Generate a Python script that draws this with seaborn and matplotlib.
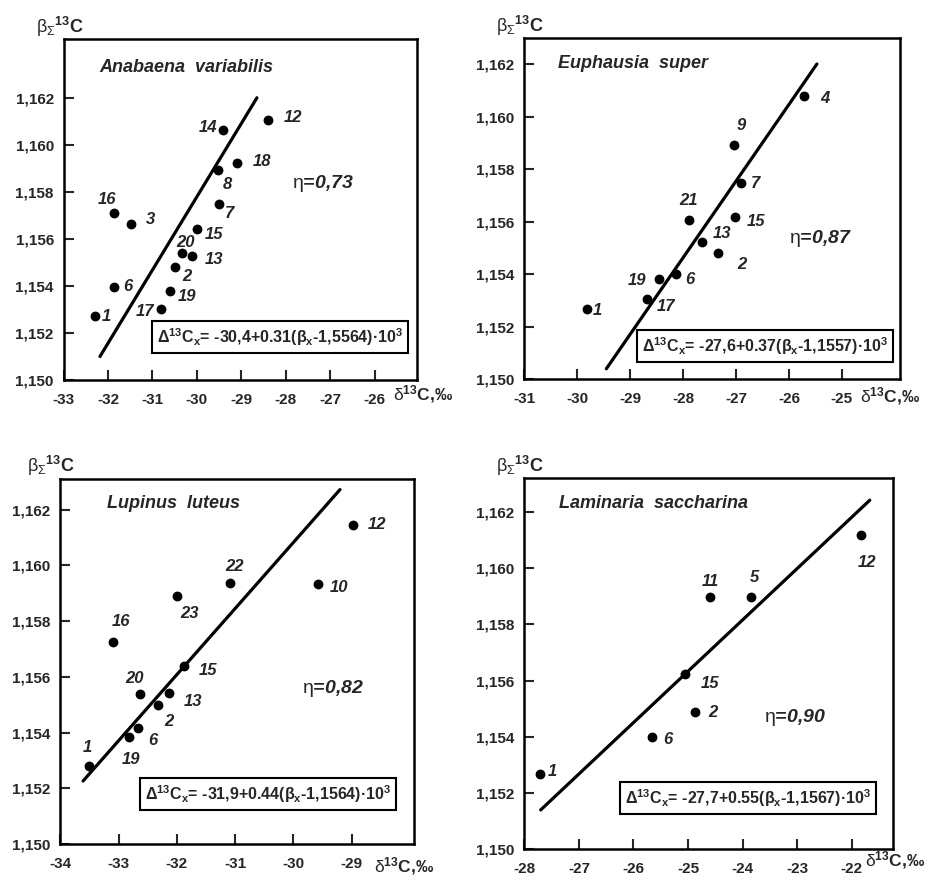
import matplotlib
matplotlib.use("Agg")
import matplotlib.pyplot as plt
import seaborn as sns
import pandas as pd

# beta vs delta13C for four organisms
anab_labels = ["14", "12", "18", "8", "7", "16", "3", "15", "20", "13", "2", "6", "19", "17", "1"]
anab_x = [-29.41, -28.41, -29.09, -29.53, -29.51, -31.86, -31.48, -29.99, -30.33, -30.11, -30.50, -31.86, -30.60, -30.81, -32.30]
anab_y = [1.16065, 1.16107, 1.15922, 1.15894, 1.15748, 1.15712, 1.15665, 1.15644, 1.15538, 1.15526, 1.15481, 1.15395, 1.15377, 1.15303, 1.15273]
anab_fit_x = [-32.18, -28.65]
anab_fit_y = [1.1510, 1.1620]

euph_labels = ["4", "9", "7", "21", "15", "13", "2", "6", "19", "17", "1"]
euph_x = [-25.71, -27.03, -26.90, -27.88, -27.01, -27.65, -27.34, -28.13, -28.45, -28.69, -29.82]
euph_y = [1.16078, 1.15892, 1.15747, 1.15608, 1.15617, 1.15522, 1.15480, 1.15402, 1.15380, 1.15305, 1.15267]
euph_fit_x = [-29.45, -25.47]
euph_fit_y = [1.1504, 1.1620]

lupi_labels = ["12", "22", "10", "23", "16", "15", "20", "13", "2", "6", "19", "1"]
lupi_x = [-28.97, -31.09, -29.57, -31.99, -33.10, -31.88, -32.64, -32.14, -32.32, -32.67, -32.82, -33.51]
lupi_y = [1.16144, 1.15935, 1.15932, 1.15890, 1.15725, 1.15638, 1.15540, 1.15543, 1.15499, 1.15417, 1.15385, 1.15280]
lupi_fit_x = [-33.61, -29.20]
lupi_fit_y = [1.15226, 1.16272]

lami_labels = ["12", "11", "5", "15", "2", "6", "1"]
lami_x = [-21.83, -24.59, -23.84, -25.06, -24.87, -25.66, -27.71]
lami_y = [1.16120, 1.15897, 1.15897, 1.15624, 1.15488, 1.15401, 1.15268]
lami_fit_x = [-27.70, -21.67]
lami_fit_y = [1.15140, 1.16242]

y_ticks = [1.150, 1.152, 1.154, 1.156, 1.158, 1.160, 1.162]
y_ticklabels = ["1,150", "1,152", "1,154", "1,156", "1,158", "1,160", "1,162"]

# label offsets in pixels (dx right, dy down)
anab_off = [(-15, -2), (25, -2), (25, -2), (10, 15), (11, 9), (-7, -13), (19, -4), (17, 6),
            (3, -11), (22, 3), (12, 10), (14, -1), (17, 5), (-16, 3), (12, 1)]
euph_off = [(21, 2), (7, -19), (14, 0), (-1, -19), (21, 4), (20, -9), (24, 11), (14, 6),
            (-22, 1), (19, 7), (11, 1)]
lupi_off = [(24, -1), (5, -17), (21, 3), (12, 17), (8, -20), (24, 4), (-5, -15), (24, 9),
            (11, 17), (15, 13), (2, 23), (-1, -18)]
lami_off = [(6, 28), (0, -16), (3, -20), (25, 10), (18, 0), (16, 3), (12, -2)]

sns.set_style("ticks")
plt.rcParams["font.family"] = ["Liberation Sans", "DejaVu Sans"]
plt.rcParams["mathtext.fontset"] = "custom"
plt.rcParams["mathtext.rm"] = "Liberation Sans"
plt.rcParams["mathtext.bf"] = "Liberation Sans:bold"
plt.rcParams["mathtext.it"] = "Liberation Sans:italic"

W, H = 931, 880
fig = plt.figure(figsize=(W / 100, H / 100), dpi=100)


def fpos(x, y):
    return x / W, 1 - y / H


panels = [
    dict(name="Anabaena  variabilis", x=anab_x, y=anab_y, labels=anab_labels, off=anab_off,
         fx=anab_fit_x, fy=anab_fit_y, box=(63.5, 39, 417, 380), xlim=(-33, -25.05), ylim=(1.150, 1.1645),
         xticks=range(-33, -25), eq="-30,4+0.31(", b0="-1,5564)", eta="0,73",
         title_at=(99, 67), eq_at=(280, 337), eta_at=(323, 183), ylab_at=(36, 27), xlab_at=(393, 394)),
    dict(name="Euphausia  super", x=euph_x, y=euph_y, labels=euph_labels, off=euph_off,
         fx=euph_fit_x, fy=euph_fit_y, box=(524.3, 37.7, 900, 379.3), xlim=(-31, -23.9), ylim=(1.150, 1.163),
         xticks=range(-31, -24), eq="-27,6+0.37(", b0="-1,1557)", eta="0,87",
         title_at=(558, 64), eq_at=(765, 346), eta_at=(820, 238), ylab_at=(496, 26), xlab_at=(860, 396)),
    dict(name="Lupinus  luteus", x=lupi_x, y=lupi_y, labels=lupi_labels, off=lupi_off,
         fx=lupi_fit_x, fy=lupi_fit_y, box=(60.3, 479, 414, 844), xlim=(-34, -27.93), ylim=(1.150, 1.1631),
         xticks=range(-34, -28), eq="-31,9+0.44(", b0="-1,1564)", eta="0,82",
         title_at=(107, 503), eq_at=(268, 794), eta_at=(333, 688), ylab_at=(27, 466), xlab_at=(374, 866)),
    dict(name="Laminaria  saccharina", x=lami_x, y=lami_y, labels=lami_labels, off=lami_off,
         fx=lami_fit_x, fy=lami_fit_y, box=(524.3, 478.3, 892.7, 849.3), xlim=(-27.95, -21.25), ylim=(1.150, 1.1632),
         xticks=range(-28, -21), eq="-27,7+0.55(", b0="-1,1567)", eta="0,90",
         title_at=(559, 503), eq_at=(748, 798), eta_at=(795, 717), ylab_at=(496, 466), xlab_at=(865, 860)),
]

for p in panels:
    l, t, r, b = p["box"]
    ax = fig.add_axes([l / W, 1 - b / H, (r - l) / W, (b - t) / H])
    df = pd.DataFrame({"x": p["x"], "y": p["y"]})
    sns.lineplot(x=p["fx"], y=p["fy"], ax=ax, color="black", lw=2.3, sort=False, estimator=None)
    sns.scatterplot(data=df, x="x", y="y", ax=ax, color="black", s=50, linewidth=0, zorder=3)

    for lab, xv, yv, (dx, dy) in zip(p["labels"], p["x"], p["y"], p["off"]):
        ax.annotate(lab, (xv, yv), xytext=(dx, -dy), textcoords="offset pixels",
                    ha="center", va="center", fontsize=12, fontweight="bold", style="italic")

    ax.set_xlim(*p["xlim"])
    ax.set_ylim(*p["ylim"])
    ax.set_xticks(list(p["xticks"]))
    ax.set_xticklabels([str(v) for v in p["xticks"]])
    ax.set_yticks(y_ticks)
    ax.set_yticklabels(y_ticklabels)
    ax.set_xlabel("")
    ax.set_ylabel("")
    ax.tick_params(direction="in", length=7, width=1.5, labelsize=11, pad=7)
    ax.tick_params(axis="x", pad=9)
    for lbl in ax.get_xticklabels() + ax.get_yticklabels():
        lbl.set_fontweight("bold")
    for sp in ax.spines.values():
        sp.set_visible(True)
        sp.set_linewidth(1.8)
        sp.set_color("black")

    fig.text(*fpos(*p["title_at"]), p["name"], ha="left", va="center",
             fontsize=13, fontweight="bold", style="italic")
    eq = (r"$\mathbf{\Delta^{13}C_x}$= " + p["eq"] + r"$\mathbf{\beta_x}$" + p["b0"]
          + r"·10$^{\mathbf{3}}$")
    fig.text(*fpos(*p["eq_at"]), eq, ha="center", va="center", fontsize=11.5, fontweight="bold",
             bbox=dict(boxstyle="square,pad=0.3", facecolor="white", edgecolor="black", linewidth=1.5))
    fig.text(*fpos(*p["eta_at"]), r"$\mathrm{\eta}$=" + p["eta"], ha="center", va="center",
             fontsize=14, fontweight="bold", style="italic")
    fig.text(*fpos(*p["ylab_at"]), r"$\mathrm{\beta_{\Sigma}}{}^{\mathbf{13}}$C", ha="left", va="center",
             fontsize=13, fontweight="bold")
    fig.text(*fpos(*p["xlab_at"]), r"$\mathrm{\delta}{}^{\mathbf{13}}$C,‰", ha="left", va="center",
             fontsize=12.5, fontweight="bold")

fig.savefig("out.png", dpi=100, facecolor="white")
